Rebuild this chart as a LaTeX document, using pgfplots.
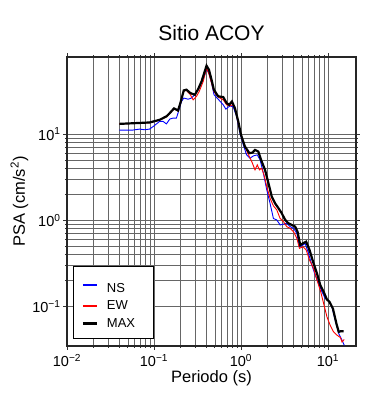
\documentclass[border=0pt]{standalone}
\usepackage{pgfplots}
\pgfplotsset{compat=1.18}
\usepackage{fontspec}
\setmainfont{Liberation Sans}
\begin{document}
\begin{tikzpicture}
\path[use as bounding box] (-67pt,-54pt) rectangle (323pt,346pt);
\begin{axis}[
  at={(0,0)}, anchor=south west,
  scale only axis, width=289pt, height=289pt,
  xmode=log, ymode=log,
  xmin=0.01, xmax=21, ymin=0.035, ymax=78,
  xtick={0.01,0.1,1,10},
  xticklabels={10\textsuperscript{−2},10\textsuperscript{−1},10\textsuperscript{0},10\textsuperscript{1}},
  ytick={0.1,1,10},
  yticklabels={10\textsuperscript{−1},10\textsuperscript{0},10\textsuperscript{1}},
  grid=both,
  major grid style={black!60, line width=0.45pt},
  minor grid style={black!60, line width=0.45pt},
  tick align=outside,
  major tick length=4pt, minor tick length=2pt,
  tick style={black!80, line width=0.6pt},
  axis line style={black!85, line width=1.6pt},
  tick label style={font=\fontsize{14.5}{17}\selectfont},
  xticklabel style={yshift=-1pt},
  yticklabel style={xshift=1pt},
  label style={font=\fontsize{16.5}{19}\selectfont},
  xlabel={Periodo (s)},
  ylabel={PSA (cm/s\textsuperscript{2})},
  xlabel style={yshift=3pt},
  ylabel style={yshift=-3pt},
  title={Sitio ACOY},
  title style={font=\fontsize{21}{24}\selectfont, yshift=7pt},
  legend style={at={(0.021,0.024)}, anchor=south west, draw=black, line width=1pt,
    fill=white, inner xsep=8pt, inner ysep=8pt, row sep=3pt,
    font=\fontsize{13}{15}\selectfont},
  legend cell align=left,
]
\addplot[blue, line width=0.9pt,
  legend image code/.code={\draw[blue, line width=1.7pt] (0pt,0pt) -- (14pt,0pt);}] coordinates {
(0.040,11.1) (0.057,11.1) (0.0685,11.4) (0.078,11.2) (0.089,11.4) (0.100,12.4)
(0.116,14.0) (0.127,14.0) (0.139,13.1) (0.152,14.9) (0.166,15.3) (0.181,15.3)
(0.189,17.5) (0.207,23.8) (0.220,26.1) (0.247,25.3) (0.270,26.1) (0.295,28.5)
(0.337,35.6) (0.384,48.6) (0.402,56.5) (0.428,50.8) (0.459,38.9) (0.490,28.5)
(0.547,25.3) (0.625,21.8) (0.671,19.4) (0.714,20.5) (0.760,21.2) (0.816,20.5)
(0.890,16.0) (0.974,10.2) (1.064,7.48) (1.16,5.73) (1.27,5.24) (1.39,5.58)
(1.54,5.73) (1.66,5.01) (1.81,3.51) (1.98,2.25) (2.16,1.57) (2.36,1.05)
(2.58,1.01) (2.82,0.883) (3.08,0.906) (3.36,0.923) (3.68,0.844) (4.02,0.808)
(4.39,0.706) (4.70,0.495) (5.15,0.517) (5.46,0.541) (5.98,0.414) (6.53,0.303)
(7.14,0.232) (7.80,0.186) (8.52,0.149) (9.31,0.124) (10.2,0.117) (11.1,0.0996)
(12.1,0.0697) (13.3,0.0489) (14.5,0.0408) (15.4,0.0357)
};
\addlegendentry{\makebox[44pt][l]{\rule{0pt}{15.5pt}\hspace{7pt}NS}}
\addplot[red, line width=0.9pt,
  legend image code/.code={\draw[red, line width=1.7pt] (0pt,0pt) -- (14pt,0pt);}] coordinates {
(0.040,13.1) (0.089,13.5) (0.116,14.5) (0.139,15.8) (0.152,17.3) (0.170,19.6)
(0.189,18.5) (0.201,22.5) (0.220,31.5) (0.236,32.0) (0.262,28.5) (0.282,24.9)
(0.308,27.3) (0.331,31.1) (0.368,40.6) (0.402,58.1) (0.431,48.6) (0.459,38.9)
(0.488,31.1) (0.547,26.8) (0.625,24.9) (0.684,21.8) (0.747,21.2) (0.801,21.8)
(0.853,19.9) (0.931,13.4) (1.02,9.19) (1.11,7.16) (1.22,5.73) (1.33,4.80)
(1.45,3.84) (1.54,4.39) (1.63,3.84) (1.73,4.01) (1.84,3.36) (1.98,2.46)
(2.16,1.80) (2.36,1.47) (2.58,1.32) (2.82,1.05) (3.08,0.966) (3.36,0.844)
(3.68,0.808) (4.02,0.738) (4.39,0.618) (4.70,0.473) (5.15,0.495) (5.62,0.453)
(6.14,0.346) (6.83,0.277) (7.47,0.203) (8.16,0.155) (8.91,0.109) (9.73,0.0762)
(10.6,0.061) (11.6,0.051) (12.7,0.0467) (13.9,0.0439) (14.5,0.039) (15.4,0.0416)
};
\addlegendentry{\makebox[44pt][l]{\hspace{7pt}EW}}
\addplot[black, line width=2.2pt,
  legend image code/.code={\draw[black, line width=2.4pt] (0pt,0pt) -- (14pt,0pt);}] coordinates {
(0.040,13.1) (0.089,13.6) (0.116,14.6) (0.139,16.0) (0.152,17.5) (0.170,19.8)
(0.189,18.7) (0.201,22.8) (0.220,32.0) (0.236,32.6) (0.262,29.8) (0.295,28.5)
(0.322,33.1) (0.352,40.6) (0.402,61.8) (0.428,55.6) (0.459,42.5) (0.488,32.6)
(0.547,27.3) (0.625,26.8) (0.684,22.8) (0.733,21.8) (0.787,23.8) (0.853,19.9)
(0.931,14.0) (1.0,9.8) (1.11,7.16) (1.25,6.0) (1.36,6.1) (1.45,6.55)
(1.58,6.27) (1.73,4.8) (1.89,3.84) (2.07,2.69) (2.26,1.88) (2.47,1.57)
(2.70,1.38) (2.94,1.21) (3.22,1.01) (3.52,0.923) (3.84,0.883) (4.20,0.844)
(4.47,0.738) (4.80,0.517) (5.15,0.541) (5.62,0.565) (6.14,0.453) (6.83,0.317)
(7.47,0.243) (8.16,0.178) (8.91,0.149) (9.73,0.121) (10.4,0.114) (11.4,0.095)
(12.5,0.0638) (13.3,0.051) (14.1,0.052) (15.1,0.052)
};
\addlegendentry{\makebox[44pt][l]{\hspace{7pt}MAX}}
\end{axis}
\end{tikzpicture}
\end{document}
